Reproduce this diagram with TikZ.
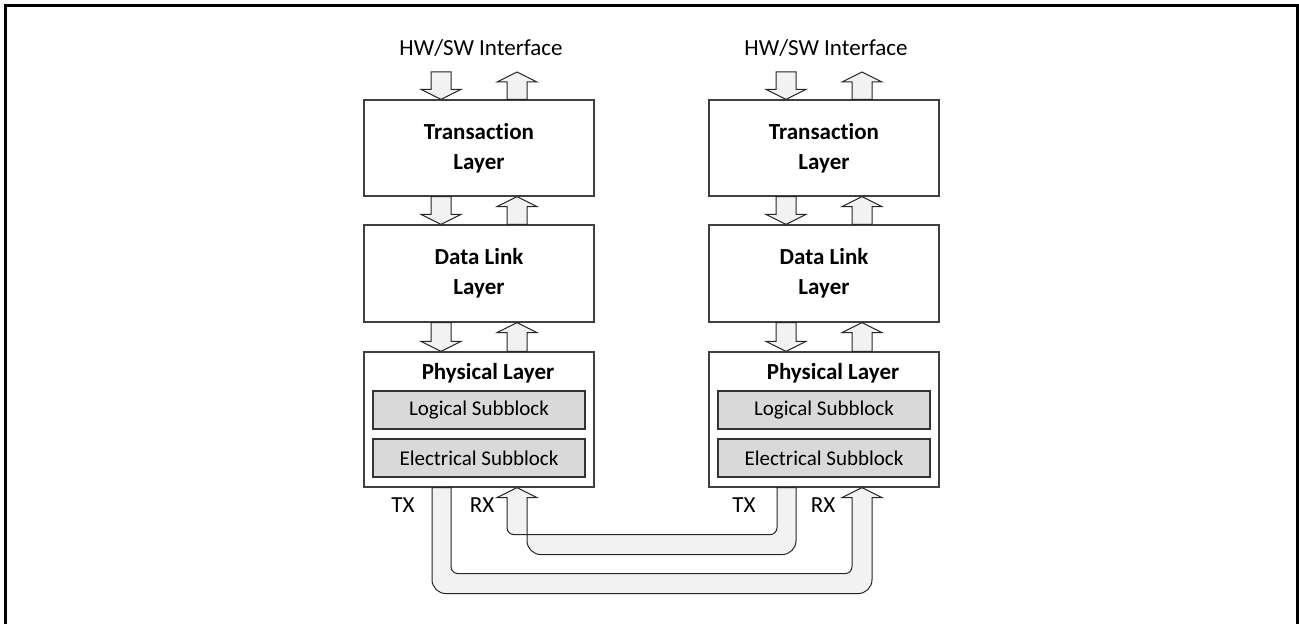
\documentclass[tikz,border=0pt]{standalone}
\usepackage{fontspec}
\setmainfont[Ligatures=NoCommon]{Carlito}
\usetikzlibrary{calc}

\tikzset{
  layerbox/.style={draw=black!75, line width=0.6pt, minimum width=115pt,
    align=center, font=\fontsize{11.5}{15}\selectfont\bfseries},
  subbox/.style={draw=black!80, fill=black!15, line width=0.6pt,
    minimum width=106pt, minimum height=19pt, font=\fontsize{10.5}{13}\selectfont},
  lbl/.style={font=\fontsize{11.5}{14}\selectfont},
  blk/.style={draw=black!85, fill=black!5, line width=0.5pt},
}

% block arrows: #1 tail anchor, #2 tip anchor, #3 shift in x
\newcommand\blkdown[3]{%
  \draw[blk] ($(#1)+(#3-10,0)$) -- ($(#2)+(#3-10,-10)$) -- ($(#2)+(#3-20,-10)$)
    -- ($(#2)+(#3,0)$) -- ($(#2)+(#3+20,-10)$) -- ($(#2)+(#3+10,-10)$)
    -- ($(#1)+(#3+10,0)$) -- cycle;}
\newcommand\blkup[3]{%
  \draw[blk] ($(#1)+(#3-10,0)$) -- ($(#2)+(#3-10,10)$) -- ($(#2)+(#3-20,10)$)
    -- ($(#2)+(#3,0)$) -- ($(#2)+(#3+20,10)$) -- ($(#2)+(#3+10,10)$)
    -- ($(#1)+(#3+10,0)$) -- cycle;}

\begin{document}
\begin{tikzpicture}[x=0.5pt,y=-0.5pt]
  \useasboundingbox (0,0) rectangle (1299,624);
  \draw[line width=1.5pt] (5,624) -- (5,6) -- (1297,6) -- (1297,624);

  \begin{scope}[every node/.style={layerbox}]
    \node (ltl) at (479,148)   [minimum height=48pt] {Transaction\\Layer};
    \node (ldl) at (479,273.5) [minimum height=48.5pt] {Data Link\\Layer};
    \node (lph) at (479,419.5) [minimum height=67.5pt] {};
    \node (rtl) at (824,148)   [minimum height=48pt] {Transaction\\Layer};
    \node (rdl) at (824,273.5) [minimum height=48.5pt] {Data Link\\Layer};
    \node (rph) at (824,419.5) [minimum height=67.5pt] {};
  \end{scope}

  \begin{scope}[every node/.style={subbox}]
    \node (llog) at (479,410) {Logical Subblock};
    \node (lele) at (479,458) {Electrical Subblock};
    \node (rlog) at (824,410) {Logical Subblock};
    \node (rele) at (824,458) {Electrical Subblock};
  \end{scope}

  \node[layerbox, draw=none] (lphl) at (488,373) {Physical Layer};
  \node[layerbox, draw=none] (rphl) at (833,373) {Physical Layer};

  \node[lbl] (lhw) at (481,48) {HW/SW Interface};
  \node[lbl] (rhw) at (826,48) {HW/SW Interface};
  \coordinate (ltop) at (479,72);
  \coordinate (rtop) at (824,72);

  \node[lbl] (ltx) at (403,505) {TX};
  \node[lbl] (lrx) at (482,505) {RX};
  \node[lbl] (rtx) at (744,505) {TX};
  \node[lbl] (rrx) at (823,505) {RX};

  \blkdown{ltop}{ltl.north}{-38}
  \blkup{ltl.north}{ltop}{38}
  \blkdown{ltl.south}{ldl.north}{-38}
  \blkup{ldl.north}{ltl.south}{38}
  \blkdown{ldl.south}{lph.north}{-38}
  \blkup{lph.north}{ldl.south}{38}

  \blkdown{rtop}{rtl.north}{-38}
  \blkup{rtl.north}{rtop}{38}
  \blkdown{rtl.south}{rdl.north}{-38}
  \blkup{rdl.north}{rtl.south}{38}
  \blkdown{rdl.south}{rph.north}{-38}
  \blkup{rph.north}{rdl.south}{38}

  % TX left -> RX right
  \draw[blk] ($(lph.south)+(-47,0)$) [rounded corners=7pt]
    -- ($(lph.south)+(-47,106)$) -- ($(rph.south)+(48,106)$) [sharp corners]
    -- ($(rph.south)+(48,10)$) -- ($(rph.south)+(58,10)$) -- ($(rph.south)+(38,0)$)
    -- ($(rph.south)+(18,10)$) -- ($(rph.south)+(28,10)$) [rounded corners=3.5pt]
    -- ($(rph.south)+(28,86)$) -- ($(lph.south)+(-28,86)$) [sharp corners]
    -- ($(lph.south)+(-28,0)$) -- cycle;

  % TX right -> RX left
  \draw[blk] ($(rph.south)+(-28,0)$) [rounded corners=7pt]
    -- ($(rph.south)+(-28,67)$) -- ($(lph.south)+(48,67)$) [sharp corners]
    -- ($(lph.south)+(48,10)$) -- ($(lph.south)+(58,10)$) -- ($(lph.south)+(38,0)$)
    -- ($(lph.south)+(18,10)$) -- ($(lph.south)+(28,10)$) [rounded corners=3.5pt]
    -- ($(lph.south)+(28,47)$) -- ($(rph.south)+(-47,47)$) [sharp corners]
    -- ($(rph.south)+(-47,0)$) -- cycle;
\end{tikzpicture}
\end{document}
